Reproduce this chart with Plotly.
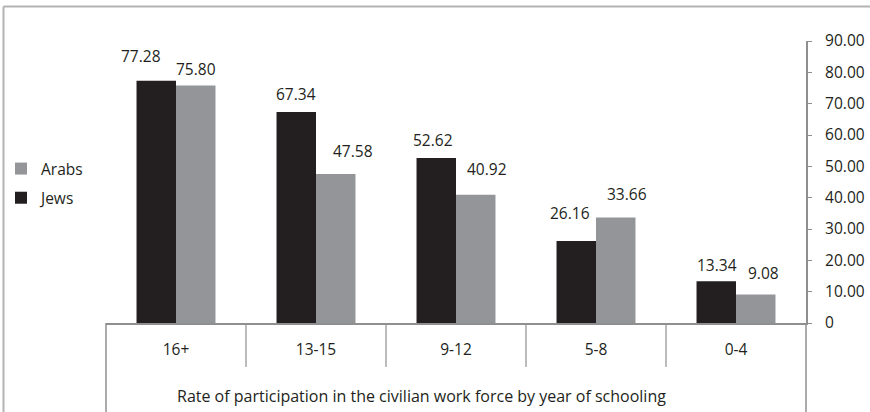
import plotly.graph_objects as go

categories = ["16+", "13-15", "9-12", "5-8", "0-4"]
jews = [77.28, 67.34, 52.62, 26.16, 13.34]
arabs = [75.80, 47.58, 40.92, 33.66, 9.08]
y_tickvals = [0, 10, 20, 30, 40, 50, 60, 70, 80, 90]
y_ticktext = ["0", "10.00", "20.00", "30.00", "40.00", "50.00", "60.00", "70.00", "80.00", "90.00"]
title_text = "Rate of participation in the civilian work force by year of schooling"

# label placement tweaks (pixels), style only
jews_dx = [-15.5, 0, -3, -6.5, 1]
jews_up = [25, 18.5, 18, 28.5, 16.5]
arabs_dx = [0, 17, 11, 11, 8]
arabs_up = [16, 23, 25.5, 24, 22]

W, H = 870, 412
L, R, T, B = 106, 64, 41, 89
PW, PH = W - L - R, H - T - B
FONT = "Open Sans"
TXT = "#231f20"
GRID = "#8f8f8f"

def px_x(p):
    return (p - L) / PW

def px_y(p):
    return (H - B - p) / PH

fig = go.Figure()
fig.add_trace(go.Bar(name="Jews", x=categories, y=jews, legendgroup="j", legendrank=2,
                     marker=dict(color="#231f20", line=dict(width=0))))
fig.add_trace(go.Bar(name="Arabs", x=categories, y=arabs, legendgroup="a", legendrank=1,
                     marker=dict(color="#939598", line=dict(width=0))))

bar_half = PW / len(categories) * (1 - 0.436) / 4
ann = []
for i, c in enumerate(categories):
    ann.append(dict(x=c, y=jews[i], xref="x", yref="y", text=f"{jews[i]:.2f}", showarrow=False,
                    xshift=-bar_half + jews_dx[i], yshift=jews_up[i], yanchor="middle",
                    font=dict(family=FONT, size=15.5, color=TXT)))
    ann.append(dict(x=c, y=arabs[i], xref="x", yref="y", text=f"{arabs[i]:.2f}", showarrow=False,
                    xshift=bar_half + arabs_dx[i], yshift=arabs_up[i], yanchor="middle",
                    font=dict(family=FONT, size=15.5, color=TXT)))
ann.append(dict(x=px_x(421), y=px_y(396), xref="paper", yref="paper", text=title_text, showarrow=False,
                xanchor="center", yanchor="middle", font=dict(family=FONT, size=16, color=TXT)))

shapes = []
# outer frame
shapes.append(dict(type="line", xref="paper", yref="paper", x0=px_x(3.5), x1=px_x(872), y0=px_y(6.5), y1=px_y(6.5),
                   line=dict(color="#b3b3b3", width=2)))
shapes.append(dict(type="line", xref="paper", yref="paper", x0=px_x(3.5), x1=px_x(3.5), y0=px_y(6.5), y1=px_y(414),
                   line=dict(color="#b3b3b3", width=2)))
# category table separators
shapes.append(dict(type="line", xref="paper", yref="paper", x0=0, x1=0, y0=0, y1=px_y(414),
                   line=dict(color=GRID, width=1.5)))
shapes.append(dict(type="line", xref="paper", yref="paper", x0=1, x1=1, y0=0, y1=px_y(414),
                   line=dict(color=GRID, width=1.5)))
for k in range(1, len(categories)):
    shapes.append(dict(type="line", xref="paper", yref="paper", x0=k / len(categories), x1=k / len(categories),
                       y0=0, y1=px_y(367), line=dict(color=GRID, width=1.2)))

fig.update_layout(
    width=W, height=H,
    margin=dict(l=L, r=R, t=T, b=B, autoexpand=False),
    paper_bgcolor="white", plot_bgcolor="white",
    barmode="group", bargap=0.436, bargroupgap=0,
    font=dict(family=FONT, size=15.5, color=TXT),
    showlegend=True,
    legend=dict(x=px_x(1), y=px_y(152), xanchor="left", yanchor="top", traceorder="grouped",
                tracegroupgap=6, bgcolor="rgba(0,0,0,0)", font=dict(family=FONT, size=15.5, color=TXT)),
    xaxis=dict(showgrid=False, showline=True, linecolor=GRID, linewidth=2, ticks="", ticklabelstandoff=11,
               zeroline=False, automargin=False, tickfont=dict(family=FONT, size=15.5, color=TXT)),
    yaxis=dict(side="right", range=[0, 90], tickvals=y_tickvals, ticktext=y_ticktext, showgrid=False,
               showline=True, linecolor=GRID, linewidth=2, ticks="outside", ticklen=4, tickcolor=GRID,
               tickwidth=1.2, ticklabelstandoff=10, zeroline=False, automargin=False,
               tickfont=dict(family=FONT, size=15.5, color=TXT)),
    annotations=ann,
    shapes=shapes,
)

fig.write_html("out.html", config={"displayModeBar": False},
               post_script="document.body.style.margin='0';document.body.style.overflow='hidden';")
